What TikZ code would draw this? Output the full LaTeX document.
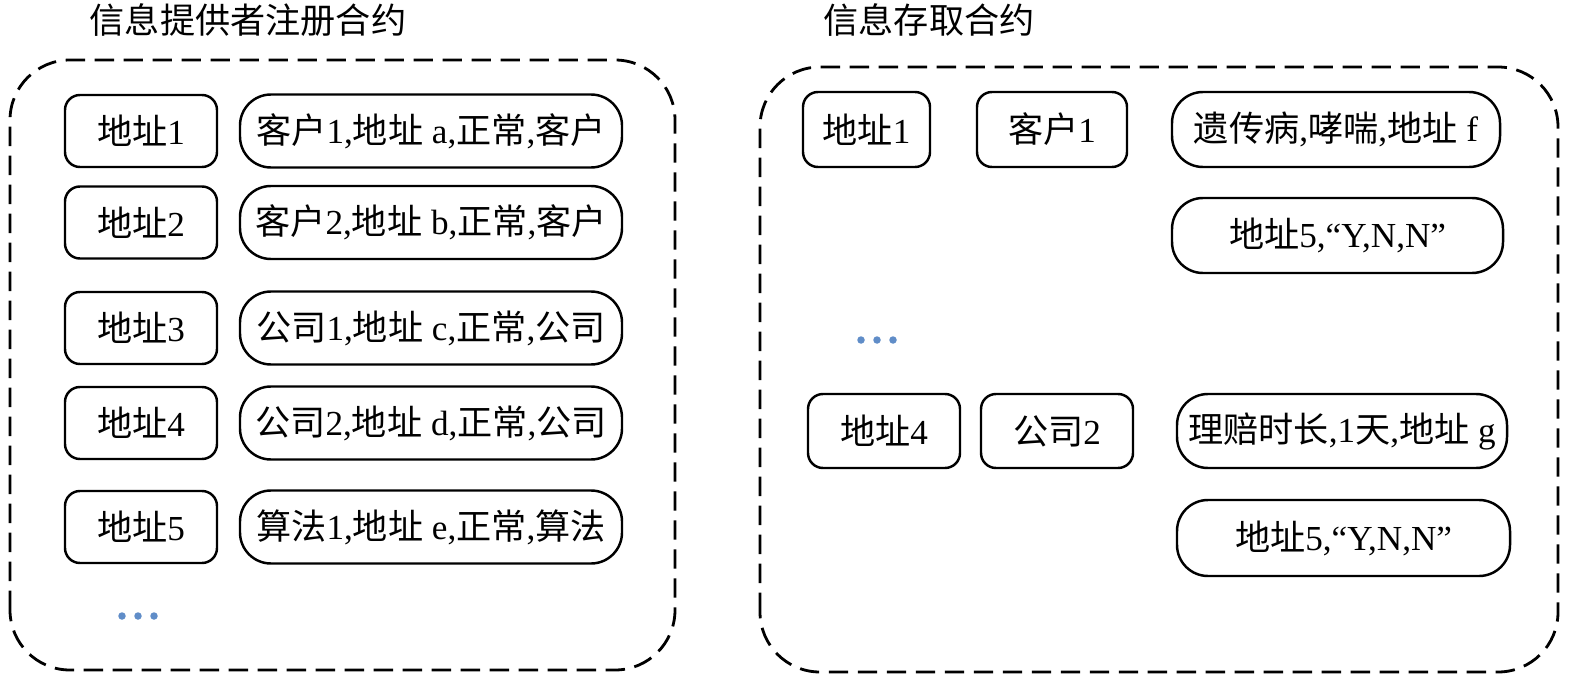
\documentclass[tikz,border=0pt]{standalone}
\usepackage{fontspec}
\setmainfont{Liberation Serif}
\newfontfamily\cjk{Noto Sans CJK SC}
\newcommand{\zh}[1]{{\cjk #1}}
\definecolor{dotblue}{RGB}{96,141,200}

\begin{document}
\begin{tikzpicture}[
    font=\fontsize{20}{22}\selectfont,
    addrbox/.style={draw,line width=1.4pt,rounded corners=0.3cm,minimum width=3.04cm,minimum height=1.44cm,inner sep=0pt},
    databox/.style={draw,line width=1.4pt,rounded corners=0.62cm,minimum height=1.46cm,inner sep=0pt},
    contract/.style={draw,line width=1.6pt,dash pattern=on 11pt off 5.5pt,rounded corners=1.2cm},
    moredots/.style={fill=dotblue}]
        \useasboundingbox (0,0) rectangle (31.5,13.7);

        % registration contract
        \node (regtitle) at (4.96,13.3) {\zh{信息提供者注册合约}};
        \draw[contract] (0.2,0.3) rectangle (13.5,12.5);
        \node[addrbox] (addr1) at (2.82,11.08) {\zh{地址}1};
        \node[addrbox] (addr2) at (2.82,9.25) {\zh{地址}2};
        \node[addrbox] (addr3) at (2.82,7.14) {\zh{地址}3};
        \node[addrbox] (addr4) at (2.82,5.24) {\zh{地址}4};
        \node[addrbox] (addr5) at (2.82,3.16) {\zh{地址}5};
        \node[databox,minimum width=7.64cm] (info1) at (8.62,11.08) {\zh{客户}1,\zh{地址} a,\zh{正常},\zh{客户}};
        \node[databox,minimum width=7.64cm] (info2) at (8.62,9.25) {\zh{客户}2,\zh{地址} b,\zh{正常},\zh{客户}};
        \node[databox,minimum width=7.64cm] (info3) at (8.62,7.14) {\zh{公司}1,\zh{地址} c,\zh{正常},\zh{公司}};
        \node[databox,minimum width=7.64cm] (info4) at (8.62,5.24) {\zh{公司}2,\zh{地址} d,\zh{正常},\zh{公司}};
        \node[databox,minimum width=7.64cm] (info5) at (8.62,3.16) {\zh{算法}1,\zh{地址} e,\zh{正常},\zh{算法}};
        \foreach \x in {2.44,2.76,3.08}
            \fill[moredots] (\x,1.38) circle (0.075);

        % access contract
        \node (acctitle) at (18.58,13.3) {\zh{信息存取合约}};
        \draw[contract] (15.2,0.26) rectangle (31.16,12.36);
        \node[addrbox,minimum width=2.54cm,minimum height=1.5cm] (accaddr1) at (17.33,11.11) {\zh{地址}1};
        \node[addrbox,minimum width=3.0cm,minimum height=1.5cm] (client1) at (21.04,11.11) {\zh{客户}1};
        \node[databox,minimum width=6.56cm,minimum height=1.5cm] (record1) at (26.72,11.11) {\zh{遗传病},\zh{哮喘},\zh{地址} f};
        \node[databox,minimum width=6.62cm,minimum height=1.5cm] (grant1) at (26.75,8.99) {\zh{地址}5,“Y,N,N”};
        \foreach \x in {17.22,17.54,17.86}
            \fill[moredots] (\x,6.9) circle (0.075);
        \node[addrbox,minimum height=1.48cm] (accaddr4) at (17.68,5.08) {\zh{地址}4};
        \node[addrbox,minimum height=1.48cm] (company2) at (21.14,5.08) {\zh{公司}2};
        \node[databox,minimum width=6.6cm,minimum height=1.48cm] (record2) at (26.84,5.08) {\zh{理赔时长},1\zh{天},\zh{地址} g};
        \node[databox,minimum width=6.66cm,minimum height=1.52cm] (grant2) at (26.87,2.94) {\zh{地址}5,“Y,N,N”};
\end{tikzpicture}
\end{document}
